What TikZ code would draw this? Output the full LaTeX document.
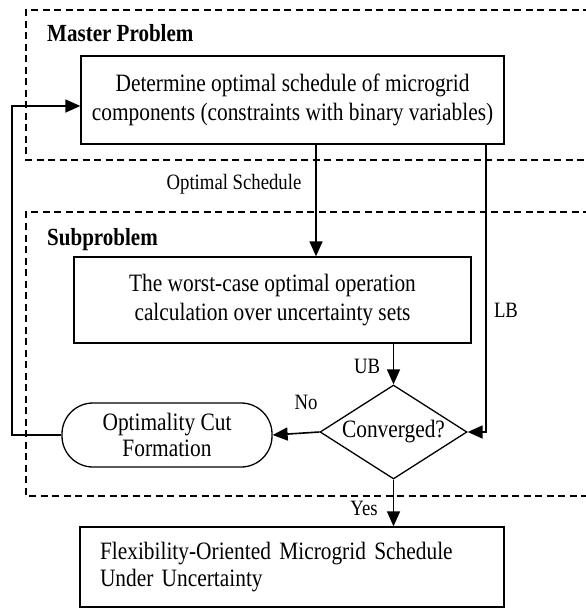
\documentclass[tikz,border=0pt]{standalone}
\usepackage{fontspec}
\setmainfont{Liberation Serif}[FakeStretch=0.855]
\usetikzlibrary{arrows.meta,shapes.geometric}
\begin{document}
\begin{tikzpicture}[x=1pt,y=-1pt,
  mainfont/.style={font=\fontsize{25}{29}\selectfont},
  lblfont/.style={font=\fontsize{21.9}{25}\selectfont},
  headfont/.style={font=\fontsize{24.6}{28}\selectfont\bfseries},
  procbox/.style={draw, line width=1.3pt, rectangle, inner sep=0pt, align=center, mainfont},
  dashbox/.style={line width=1.2pt, dash pattern=on 7pt off 4.5pt},
  arr/.style={line width=1.6pt, -{Triangle[length=15pt,width=13pt]}},
  lbl/.style={lblfont, inner sep=0pt}
]
\useasboundingbox (0,0) rectangle (585,609);
% dashed group frames
\draw[dashbox] (590,10) -- (26,10) -- (26,160) -- (590,160);
\draw[dashbox] (590,212) -- (26,212) -- (26,496) -- (590,496);
\node[headfont, anchor=base west, inner sep=0pt] (mp) at (47,42) {Master Problem};
\node[headfont, anchor=base west, inner sep=0pt] (sp) at (47,245) {Subproblem};
% nodes
\node[procbox, minimum width=423pt, minimum height=88pt] (box1) at (292.5,100)
  {Determine optimal schedule of microgrid\\components (constraints with binary variables)};
\node[procbox, minimum width=397pt, minimum height=86pt] (box2) at (272.5,300)
  {The worst-case optimal operation\\calculation over uncertainty sets};
\node[draw, line width=1.3pt, shape=diamond, aspect=1.56, minimum width=147pt, minimum height=94pt, inner sep=0pt, mainfont] (dia) at (393.5,432) {Converged?};
\node[draw, line width=1.3pt, rectangle, rounded corners=31pt, minimum width=210pt, minimum height=64pt, inner sep=0pt, align=center, font=\fontsize{25}{26}\selectfont] (cut) at (167,435)
  {Optimality Cut\\Formation};
\node[draw, line width=1.3pt, rectangle, minimum width=424pt, minimum height=80pt, inner xsep=20pt, inner ysep=0pt, text width=384pt, align=left, font=\fontsize{25}{27}\selectfont] (final) at (292,567)
  {Flexibility-Oriented Microgrid Schedule\\Under Uncertainty};
% helper coordinates
\coordinate (osx) at (316,0);
\coordinate (lbx) at (486,0);
\coordinate (fbx) at (12,0);
\coordinate (fby) at (0,106);
% connectors
\draw[arr] (osx |- box1.south) -- (osx |- box2.north);
\draw[arr] (lbx |- box1.south) -- (lbx |- dia.east) -- (dia.east);
\draw[arr] (dia.north |- box2.south) -- (dia.north);
\draw[arr] (dia.west) -- (cut.east);
\draw[arr] (cut.west) -- (fbx |- cut.west) -- (fbx |- fby) -- (box1.west |- fby);
\draw[arr] (dia.south) -- (dia.south |- final.north);
% labels
\node[lbl, anchor=base] (los) at (234,190) {Optimal Schedule};
\node[lbl, anchor=base] (llb) at (506,317) {LB};
\node[lbl, anchor=base] (lub) at (367,373) {UB};
\node[lbl, anchor=base] (lno) at (306,409) {No};
\node[lbl, anchor=base] (lyes) at (364,515) {Yes};
\end{tikzpicture}
\end{document}
